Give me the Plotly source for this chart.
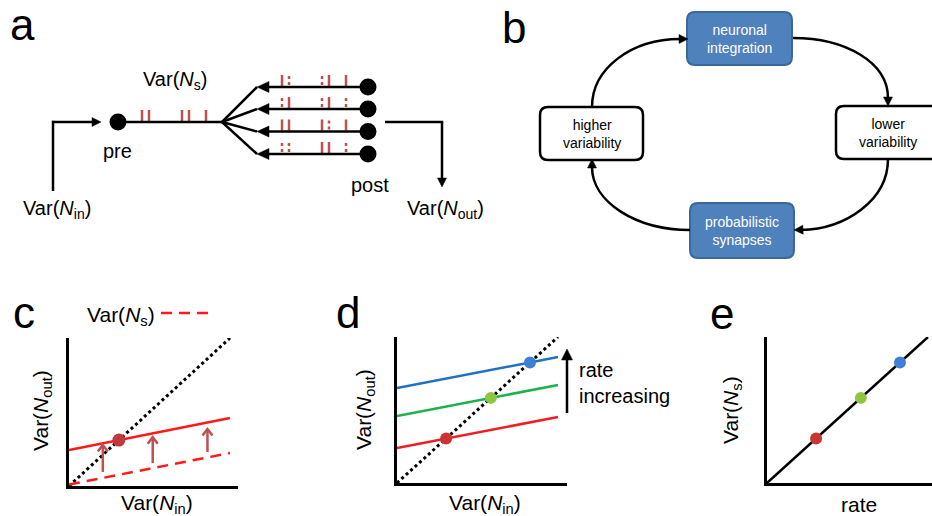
import math
import plotly.graph_objects as go

W, H = 932, 516

# ------------------------------------------------------------------ data
# panel a: spike trains (relative spike positions, px) and release pattern
spike_offsets = [0, 7, 40, 47, 64]
branch_release = [
    [1, 0, 0, 1, 1],
    [0, 1, 0, 1, 0],
    [1, 1, 1, 0, 1],
    [0, 0, 1, 1, 0],
]
# panel c
c_var_in = [0.0, 1.0]
c_identity = [0.0, 1.0]
c_var_s = [0.01, 0.223]
c_var_out = [0.243, 0.459]
c_fixed_x = [0.31]
c_fixed_y = [0.31]
c_arrow_x = [0.21, 0.52, 0.86]
c_arrow_from = [0.095, 0.155, 0.23]
c_arrow_to = [0.277, 0.33, 0.385]
# panel d
d_var_in = [0.0, 1.0]
d_identity = [0.0, 1.0]
d_low_rate = [0.24, 0.452]
d_mid_rate = [0.459, 0.671]
d_high_rate = [0.65, 0.863]
d_fixed = [0.305, 0.583, 0.826]
# panel e
e_rate = [0.0, 1.0]
e_var_s = [0.0, 1.0]
e_points = [0.305, 0.583, 0.826]

rate_dot_colors = ["#cc3333", "#8dc63f", "#3f7fd6"]
rate_line_colors = ["#f01e23", "#1db14b", "#1f72bf"]

FONT = "Liberation Sans, Arial, sans-serif"
SPIKE = "#c0504d"

# ------------------------------------------------------------------ layout geometry (px)
axon_y = 122
pre_x = 118
junction_x = 222
axon_spike_x0 = 142
branch_y = [87, 109, 131.5, 154]
branch_tip_x = 257
post_x = 368
branch_spike_x0 = 282

fig = go.Figure()

# spikes: axon (all solid), branches (solid = release, dotted = failure)
sx, sy, dx, dy = [], [], [], []
for off in spike_offsets:
    sx += [axon_spike_x0 + off] * 2 + [None]
    sy += [axon_y - 12, axon_y - 1, None]
for by, pattern in zip(branch_y, branch_release):
    for off, rel in zip(spike_offsets, pattern):
        if rel:
            sx += [branch_spike_x0 + off] * 2 + [None]
            sy += [by - 12, by - 1, None]
        else:
            dx += [branch_spike_x0 + off] * 2 + [None]
            dy += [by - 11, by - 1, None]
fig.add_trace(go.Scatter(x=sx, y=sy, mode="lines", line=dict(color=SPIKE, width=2.5),
                         xaxis="x", yaxis="y", hoverinfo="skip"))
fig.add_trace(go.Scatter(x=dx, y=dy, mode="lines", line=dict(color=SPIKE, width=2.5, dash="3px,3px"),
                         xaxis="x", yaxis="y", hoverinfo="skip"))

# panel c traces
fig.add_trace(go.Scatter(x=c_var_in, y=c_identity, mode="lines",
                         line=dict(color="black", width=3, dash="dot"), xaxis="x2", yaxis="y2"))
fig.add_trace(go.Scatter(x=c_var_in, y=c_var_s, mode="lines",
                         line=dict(color="#ff1a1a", width=2.5, dash="11px,7px"), xaxis="x2", yaxis="y2"))
fig.add_trace(go.Scatter(x=c_var_in, y=c_var_out, mode="lines",
                         line=dict(color="#ff1a1a", width=2.5), xaxis="x2", yaxis="y2"))
fig.add_trace(go.Scatter(x=c_fixed_x, y=c_fixed_y, mode="markers", cliponaxis=False,
                         marker=dict(color="#c0393b", size=13), xaxis="x2", yaxis="y2"))

# panel d traces
fig.add_trace(go.Scatter(x=d_var_in, y=d_identity, mode="lines",
                         line=dict(color="black", width=3, dash="dot"), xaxis="x3", yaxis="y3"))
for ys, col in zip([d_low_rate, d_mid_rate, d_high_rate], rate_line_colors):
    fig.add_trace(go.Scatter(x=d_var_in, y=ys, mode="lines",
                             line=dict(color=col, width=2.5), xaxis="x3", yaxis="y3"))
fig.add_trace(go.Scatter(x=d_fixed, y=d_fixed, mode="markers", cliponaxis=False,
                         marker=dict(color=rate_dot_colors, size=12), xaxis="x3", yaxis="y3"))

# panel e traces
fig.add_trace(go.Scatter(x=e_rate, y=e_var_s, mode="lines",
                         line=dict(color="black", width=2.5), xaxis="x4", yaxis="y4"))
fig.add_trace(go.Scatter(x=e_points, y=e_points, mode="markers", cliponaxis=False,
                         marker=dict(color=rate_dot_colors, size=12), xaxis="x4", yaxis="y4"))

shapes = []
annotations = []


def line(x0, y0, x1, y1, color="black", width=2.5, dash=None):
    shapes.append(dict(type="line", xref="x", yref="y", x0=x0, y0=y0, x1=x1, y1=y1,
                       line=dict(color=color, width=width, dash=dash)))


def circle(cx, cy, r, color="black"):
    shapes.append(dict(type="circle", xref="x", yref="y", x0=cx - r, x1=cx + r, y0=cy - r, y1=cy + r,
                       fillcolor=color, line=dict(color=color, width=0)))


def head(x, y, ax, ay, hl, hw, color="black"):
    L = math.hypot(x - ax, y - ay)
    ux, uy = (x - ax) / L, (y - ay) / L
    bx, by = x - ux * hl, y - uy * hl
    p = (f"M{x},{y} L{bx - uy * hw},{by + ux * hw} L{bx + uy * hw},{by - ux * hw} Z")
    shapes.append(dict(type="path", xref="x", yref="y", path=p, fillcolor=color,
                       line=dict(color=color, width=0.5)))
    return bx + ux * 1.5, by + uy * 1.5


def arrow(x, y, ax, ay, hl=9, hw=4.5, color="black", width=2.5):
    ex, ey = head(x, y, ax, ay, hl, hw, color)
    line(ax, ay, ex, ey, color=color, width=width)


def text(x, y, t, size, color="black", xanchor="center", angle=0, align="center"):
    annotations.append(dict(xref="x", yref="y", x=x, y=y, text=t, showarrow=False, xanchor=xanchor,
                            yanchor="middle", textangle=angle, align=align,
                            font=dict(family=FONT, size=size, color=color)))


def rrect(x0, y0, x1, y1, r, fill, edge, width):
    p = (f"M{x0 + r},{y0} L{x1 - r},{y0} Q{x1},{y0} {x1},{y0 + r} L{x1},{y1 - r} "
         f"Q{x1},{y1} {x1 - r},{y1} L{x0 + r},{y1} Q{x0},{y1} {x0},{y1 - r} L{x0},{y0 + r} "
         f"Q{x0},{y0} {x0 + r},{y0} Z")
    shapes.append(dict(type="path", xref="x", yref="y", path=p, fillcolor=fill,
                       line=dict(color=edge, width=width), layer="below"))


# ---------------- panel a
line(53, 191, 53, axon_y - 1.2)
arrow(101, axon_y, 52, axon_y, hl=9, hw=4.5)
circle(pre_x, axon_y, 8.5)
line(pre_x, axon_y, junction_x, axon_y)
for by in branch_y:
    line(junction_x, axon_y, branch_tip_x, by)
    arrow(branch_tip_x, by, post_x, by, hl=12, hw=5.5)
    circle(post_x, by, 8.5)
line(385, axon_y, 443.2, axon_y)
arrow(442, 187, 442, axon_y, hl=9, hw=4.5)

text(175, 80, "Var(<i>N</i><sub>s</sub>)", 20)
text(117, 151, "pre", 20)
text(370, 185, "post", 20)
text(57, 209, "Var(<i>N</i><sub>in</sub>)", 20)
text(445, 209, "Var(<i>N</i><sub>out</sub>)", 20)

# ---------------- panel b
boxes = [
    (687, 12, 792, 65, "#4f81bd", "#3a679c", "neuronal<br>integration", "white", 739.5),
    (540, 107, 643, 160, "white", "black", "higher<br>variability", "black", 591.5),
    (836, 106, 945, 159, "white", "black", "lower<br>variability", "black", 888),
    (690, 203, 794, 258, "#4f81bd", "#3a679c", "probabilistic<br>synapses", "white", 742),
]
for x0, y0, x1, y1, fill, edge, t, tc, tx in boxes:
    rrect(x0, y0, x1, y1, 8, fill, edge, 2.5 if fill == "white" else 2)
    text(tx, (y0 + y1) / 2, t, 14, color=tc)

arcs = [
    "M592,107 C592,68 632,39 680,39",
    "M793,38 C845,38 888,62 888,98",
    "M888,159 C888,200 846,229 801,230",
    "M690,230 C636,230 592,202 592,167",
]
for p in arcs:
    shapes.append(dict(type="path", xref="x", yref="y", path=p, line=dict(color="black", width=2.5)))
head(688, 39, 678, 39, 9, 4.5)
head(888, 106, 888, 96, 9, 4.5)
head(794, 230, 804, 229.6, 9, 4.5)
head(592, 159, 592, 169, 9, 4.5)

# ---------------- panel letters
text(22, 24, "a", 44)
text(514, 27, "b", 44)
text(24, 312, "c", 44)
text(348, 312, "d", 44)
text(722, 313, "e", 44)

# ---------------- panel c labels
text(121, 316, "Var(<i>N</i><sub>s</sub>)", 21)
shapes.append(dict(type="line", xref="x", yref="y", x0=161, x1=209, y0=313, y1=313,
                   line=dict(color="#ff1a1a", width=2.5, dash="11px,7px")))
text(42, 411, "Var(<i>N</i><sub>out</sub>)", 21, angle=-90)
text(157, 504, "Var(<i>N</i><sub>in</sub>)", 21)
for xa, y0, y1 in zip(c_arrow_x, c_arrow_from, c_arrow_to):
    shapes.append(dict(type="line", xref="x2", yref="y2", x0=xa, x1=xa, y0=y0, y1=y1,
                       line=dict(color=SPIKE, width=2.5)))
    shapes.append(dict(type="path", xref="x2", yref="y2", xsizemode="pixel", ysizemode="pixel",
                       xanchor=xa, yanchor=y1, path="M-5,-6.5 L0,0 L5,-6.5",
                       line=dict(color=SPIKE, width=2.5)))

# ---------------- panel d labels
text(365, 410, "Var(<i>N</i><sub>out</sub>)", 21, angle=-90)
text(485, 504, "Var(<i>N</i><sub>in</sub>)", 21)
arrow(567, 349, 567, 413, hl=11, hw=5.5)
text(577, 383, "rate<br>increasing", 20, xanchor="left", align="left")

# ---------------- panel e labels
text(732, 410, "Var(<i>N</i><sub>s</sub>)", 21, angle=-90)
text(859, 504, "rate", 21)

axis_common = dict(showline=True, linecolor="black", linewidth=3, showgrid=False, zeroline=False,
                   showticklabels=False, ticks="", fixedrange=True)

fig.update_layout(
    width=W, height=H, margin=dict(l=0, r=0, t=0, b=0),
    paper_bgcolor="white", plot_bgcolor="rgba(0,0,0,0)", showlegend=False,
    template="none",
    xaxis=dict(domain=[0, 1], range=[0, W], visible=False, fixedrange=True),
    yaxis=dict(domain=[0, 1], range=[H, 0], visible=False, fixedrange=True),
    xaxis2=dict(domain=[69 / W, 238 / W], range=[0, 169 / 161], anchor="y2", **axis_common),
    yaxis2=dict(domain=[1 - 486 / H, 1 - 338 / H], range=[0, 1], anchor="x2", **axis_common),
    xaxis3=dict(domain=[397 / W, 567 / W], range=[0, 170 / 161], anchor="y3", **axis_common),
    yaxis3=dict(domain=[1 - 483 / H, 1 - 337 / H], range=[0, 1], anchor="x3", **axis_common),
    xaxis4=dict(domain=[767 / W, 1.0], range=[0, 165 / 161], anchor="y4", **axis_common),
    yaxis4=dict(domain=[1 - 483 / H, 1 - 337 / H], range=[0, 1], anchor="x4", **axis_common),
    shapes=shapes, annotations=annotations,
    font=dict(family=FONT),
)

fig.write_html("out.html", config={"displayModeBar": False},
               post_script="document.body.style.margin='0px';document.body.style.overflow='hidden';")
